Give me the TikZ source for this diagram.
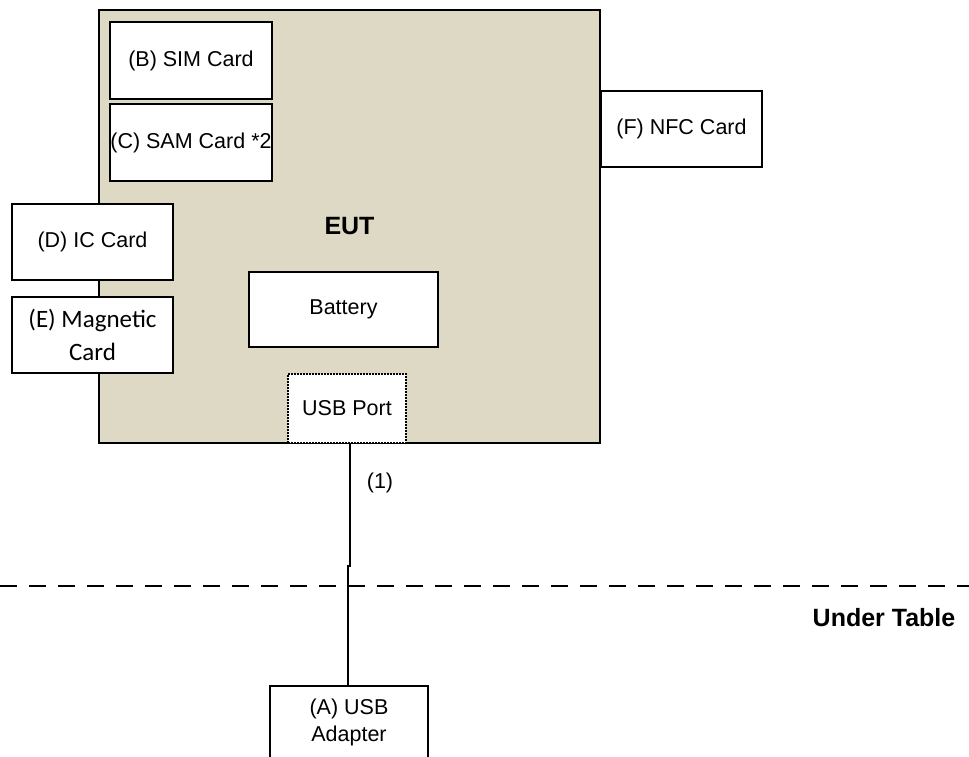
\documentclass[tikz,border=0pt]{standalone}
\usepackage{fontspec}
\setmainfont{Liberation Sans}
\newfontfamily\calibrifont{Carlito}
\definecolor{eutfill}{RGB}{221,217,196}
\begin{document}
\begin{tikzpicture}[x=1pt,y=-1pt,
    box/.style={draw,line width=2pt,fill=white,inner sep=0pt,align=center,
      font=\fontsize{21.5}{27}\selectfont},
    card/.style={box,minimum width=161pt,minimum height=76pt},
    cable/.style={line width=2pt}]
  \useasboundingbox (0,0) rectangle (969,756);
  % EUT and the cards in it
  \node[box,fill=eutfill,minimum width=501pt,minimum height=433pt,
    font=\fontsize{25}{30}\selectfont\bfseries] (eut) at (349.5,226.5) {EUT};
  \node[card,minimum width=162pt,minimum height=77pt] (sim) at (191,60.5) {(B) SIM Card};
  \node[card,minimum width=162pt,minimum height=77pt] (sam) at (191,142.5) {(C) SAM Card *2};
  \node[card] (nfc) at (681.5,129) {(F) NFC Card};
  \node[card] (ic) at (92.5,242) {(D) IC Card};
  \node[card,font=\calibrifont\fontsize{25}{33}\selectfont] (mag) at (92.5,335) {(E) Magnetic\\Card};
  \node[box,minimum width=189pt,minimum height=75pt] (bat) at (343.5,309.5) {Battery};
  \node[box,densely dotted,minimum width=118pt,minimum height=69pt] (usb) at (347,408.5) {USB Port};
  % under the table
  \node[box,minimum width=158pt,minimum height=72pt] (adp) at (349,722) {(A) USB\\Adapter};
  \coordinate (tl) at (0,586);
  \coordinate (tr) at (969,586);
  \draw[cable,dash pattern=on 17pt off 12pt] (tl) -- (tr);
  \node[font=\fontsize{25}{30}\selectfont\bfseries] (under) at (884,618) {Under Table};
  % cable
  \coordinate (jog1) at (350,566);
  \coordinate (jog2) at (348,566);
  \begin{scope}[cable]
    \draw (jog1 |- usb.south) -- (jog1) -- (jog2) -- (jog2 |- adp.north);
  \end{scope}
  \node[font=\fontsize{21.5}{27}\selectfont] (c1) at (380,483) {(1)};
\end{tikzpicture}
\end{document}
